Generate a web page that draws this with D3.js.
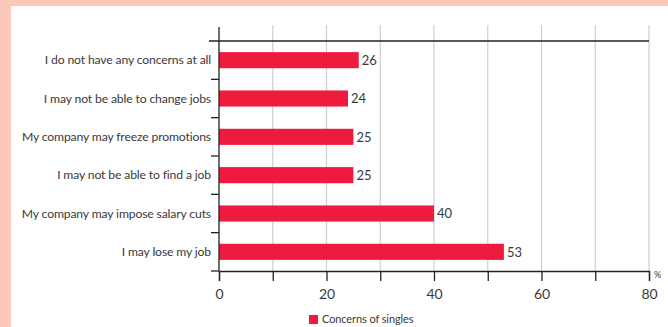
<!DOCTYPE html>
<html>
<head>
<meta charset="utf-8">
<script src="https://cdn.jsdelivr.net/npm/d3@7"></script>
<style>
  html, body { margin: 0; padding: 0; background: #fff; }
  svg { display: block; }
  text { font-family: Lato, "Open Sans", sans-serif; fill: #3a3a3a; }
</style>
</head>
<body>
<div id="chart"></div>
<script>
// Concerns of singles, % — horizontal bars, top to bottom as in the picture.
const categories = [
  'I do not have any concerns at all',
  'I may not be able to change jobs',
  'My company may freeze promotions',
  'I may not be able to find a job',
  'My company may impose salary cuts',
  'I may lose my job'
];
const values = [26, 24, 25, 25, 40, 53];
const xTicks = [0, 20, 40, 60, 80];
const seriesName = 'Concerns of singles';

(function () {
  const W = 668, H = 327;
  const plotL = 219, plotR = 649, plotT = 41, plotB = 271;
  const red = '#ee1b3e';

  const svg = d3.select('#chart').append('svg').attr('width', W).attr('height', H);

  // pink frame
  svg.append('rect').attr('x', 0).attr('y', 0).attr('width', W).attr('height', 6).attr('fill', '#fbc8b9');
  svg.append('rect').attr('x', 0).attr('y', 0).attr('width', 11).attr('height', H).attr('fill', '#fbc8b9');

  const x = d3.scaleLinear().domain([0, 80]).range([plotL, plotR]);
  const y = d3.scaleBand().domain(categories).range([plotT, plotB]).paddingInner(0.58).paddingOuter(0.29);

  // vertical gridlines every 10
  svg.append('g').selectAll('line')
    .data(d3.range(10, 81, 10))
    .join('line')
    .attr('x1', d => x(d)).attr('x2', d => x(d))
    .attr('y1', 25).attr('y2', plotB)
    .attr('stroke', '#cfcfcf').attr('stroke-width', 1.2);

  // top rule
  svg.append('line').attr('x1', 209).attr('x2', plotR).attr('y1', plotT).attr('y2', plotT)
    .attr('stroke', '#222').attr('stroke-width', 1.3);

  // bars
  svg.append('g').selectAll('rect')
    .data(values)
    .join('rect')
    .attr('x', x(0))
    .attr('y', (d, i) => y(categories[i]))
    .attr('width', d => x(d) - x(0))
    .attr('height', y.bandwidth())
    .attr('fill', red);

  // value labels
  svg.append('g').selectAll('text')
    .data(values)
    .join('text')
    .attr('x', d => x(d) + 3)
    .attr('y', (d, i) => y(categories[i]) + y.bandwidth() / 2)
    .attr('dy', '0.36em')
    .attr('font-size', 13)
    .text(d => d);

  // y axis with band-boundary ticks
  const step = y.step();
  const yAxis = svg.append('g');
  yAxis.append('line').attr('x1', plotL).attr('x2', plotL).attr('y1', 27).attr('y2', plotB)
    .attr('stroke', '#222').attr('stroke-width', 1.3);
  yAxis.selectAll('.tk')
    .data(categories.slice(1).concat(['end']))
    .join('line')
    .attr('x1', 211).attr('x2', plotL)
    .attr('y1', (d, i) => plotT + step * (i + 1)).attr('y2', (d, i) => plotT + step * (i + 1))
    .attr('stroke', '#222').attr('stroke-width', 1.3);
  yAxis.selectAll('text')
    .data(categories)
    .join('text')
    .attr('x', 211)
    .attr('y', d => y(d) + y.bandwidth() / 2)
    .attr('dy', '0.35em')
    .attr('text-anchor', 'end')
    .attr('font-size', 12.2)
    .attr('letter-spacing', -0.15)
    .text(d => d);

  // x axis
  const xAxis = svg.append('g').attr('transform', `translate(0,${plotB})`)
    .call(d3.axisBottom(x).tickValues(d3.range(0, 81, 10)).tickSize(10).tickFormat(d => xTicks.includes(d) ? d : ''));
  xAxis.select('.domain').attr('stroke', '#222').attr('stroke-width', 1.3);
  xAxis.selectAll('.tick line').attr('stroke', '#222').attr('stroke-width', 1.3);
  xAxis.selectAll('.tick text').attr('font-size', 14).attr('dy', '1.05em')
    .style('font-family', 'Lato, sans-serif').attr('fill', '#3a3a3a');

  svg.append('text').attr('x', 654).attr('y', 278).attr('font-size', 9).text('%');

  // legend
  const lg = svg.append('g').attr('transform', 'translate(309,315)');
  lg.append('rect').attr('width', 9).attr('height', 9).attr('fill', red);
  lg.append('text').attr('x', 13).attr('y', 4.5).attr('dy', '0.35em').attr('font-size', 11).attr('letter-spacing', -0.1).text(seriesName);
})();
</script>
</body>
</html>
